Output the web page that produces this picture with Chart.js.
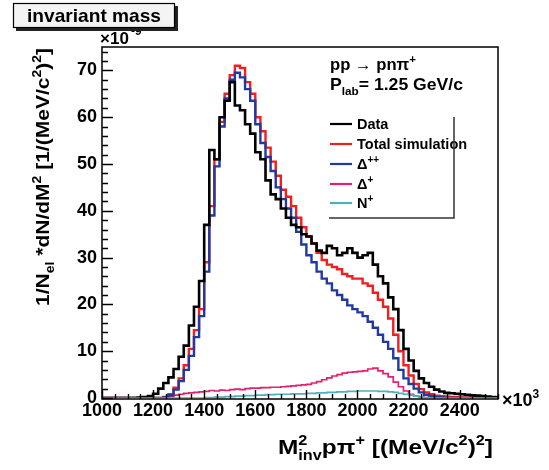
<!DOCTYPE html>
<html>
<head>
<meta charset="utf-8">
<title>invariant mass</title>
<script src="https://cdn.jsdelivr.net/npm/chart.js@4.4.1/dist/chart.umd.min.js"></script>
<style>
  html, body { margin: 0; padding: 0; background: #fff; }
</style>
</head>
<body>
<canvas id="massChart" width="549" height="470"></canvas>
<script>
// bin edges of M^2_inv(p pi+) in 10^3 (MeV/c^2)^2, last value closes the last bin
const binEdges = [
  1000, 1020, 1040, 1060, 1080, 1100, 1120, 1140, 1160, 1180,
  1200, 1220, 1240, 1260, 1280, 1300, 1320, 1340, 1360, 1380,
  1400, 1420, 1440, 1460, 1480, 1500, 1520, 1540, 1560, 1580,
  1600, 1620, 1640, 1660, 1680, 1700, 1720, 1740, 1760, 1780,
  1800, 1820, 1840, 1860, 1880, 1900, 1920, 1940, 1960, 1980,
  2000, 2020, 2040, 2060, 2080, 2100, 2120, 2140, 2160, 2180,
  2200, 2220, 2240, 2260, 2280, 2300, 2320, 2340, 2360, 2380,
  2400, 2420, 2440, 2460, 2480, 2500, 2520, 2540, 2560
];

const dataHist = [
  0, 0, 0, 0, 0, 0, 0, 0.1, 0.2, 0.4,
  0.9, 2.0, 3.2, 4.4, 6.2, 8.8, 11.2, 15.5, 19.5, 25,
  37, 53, 51, 60, 63.5, 67.5, 62.5, 61.5, 58.5, 56.5,
  52.5, 51, 46.5, 43.5, 42.5, 40.5, 38.5, 37, 36.5, 35,
  34.5, 33, 31.5, 31, 32.5, 32, 30.5, 31, 32, 31,
  30, 30.5, 31, 28.5, 26, 24.5, 21.5, 19, 14.5, 10.5,
  8, 5.8, 4.2, 3.2, 2.4, 1.8, 1.4, 1.1, 1.0, 0.9,
  0.8, 0.7, 0.6, 0.5, 0.4, 0.3, 0.2, 0.1
];

const totalSim = [
  0, 0, 0, 0, 0, 0, 0, 0, 0, 0,
  0, 0, 0.2, 0.8, 2.2, 4.2, 7, 10.5, 14.5, 19,
  29, 41, 51, 59, 65, 69, 71, 70.5, 67.5, 65,
  60, 57, 53.5, 50.5, 47.5, 44.5, 43, 41, 38.5, 36.5,
  34.5, 33, 31, 29.5, 28.5, 28, 27.5, 26.5, 26, 25.5,
  25.5, 24.5, 24, 22.5, 21, 19.5, 17, 13.5, 10, 7,
  4.8, 3, 1.9, 1.2, 0.8, 0.5, 0.4, 0.3, 0.2, 0.2,
  0.1, 0.1, 0.1, 0.1, 0.1, 0.1, 0.1, 0.1
];

const deltaPP = [
  0, 0, 0, 0, 0, 0, 0, 0, 0, 0,
  0, 0, 0.1, 0.6, 1.8, 3.6, 6, 9, 13, 17.5,
  27, 39, 49.5, 58, 64, 68, 69.5, 68.5, 66, 63.5,
  58.5, 54.5, 51.5, 48.5, 45, 42.5, 40.5, 38.5, 35.5, 32.8,
  30.5, 29, 27, 25.5, 24.5, 23, 22, 21, 19.8, 19,
  18.3, 17.5, 16.3, 15, 13.5, 12, 10.5, 8.5, 6, 4.2,
  3, 2, 1.2, 0.7, 0.4, 0.2, 0.1, 0, 0, 0,
  0, 0, 0, 0, 0, 0, 0, 0
];

const deltaP = [
  0, 0, 0, 0, 0, 0, 0, 0, 0, 0,
  0, 0, 0.1, 0.3, 0.6, 0.8, 1.0, 1.1, 1.2, 1.3,
  1.4, 1.6, 1.5, 1.7, 1.6, 1.8, 1.9, 1.8, 2.0, 2.1,
  2.1, 2.2, 2.2, 2.3, 2.3, 2.4, 2.5, 2.6, 2.7, 2.8,
  2.9, 3.2, 3.5, 3.9, 4.3, 4.7, 5.0, 5.3, 5.5, 5.6,
  5.7, 5.8, 6.2, 6.4, 5.8, 5.2, 4.5, 3.4, 2.4, 1.5,
  0.8, 0.4, 0.2, 0.1, 0, 0, 0, 0, 0, 0,
  0, 0, 0, 0, 0, 0, 0, 0
];

const nStar = [
  0, 0, 0, 0, 0, 0, 0, 0, 0, 0,
  0, 0, 0, 0, 0, 0, 0, 0, 0, 0,
  0.1, 0.1, 0.2, 0.2, 0.3, 0.3, 0.4, 0.4, 0.5, 0.5,
  0.6, 0.6, 0.7, 0.7, 0.8, 0.8, 0.8, 0.9, 0.9, 0.9,
  1.0, 1.0, 1.1, 1.1, 1.2, 1.2, 1.3, 1.3, 1.4, 1.4,
  1.5, 1.5, 1.5, 1.5, 1.4, 1.4, 1.3, 1.2, 1.0, 0.8,
  0.6, 0.4, 0.2, 0.1, 0, 0, 0, 0, 0, 0,
  0, 0, 0, 0, 0, 0, 0, 0
];

const seriesNames = ["Data", "Total simulation", "Δ++", "Δ+", "N+"];
const seriesColors = ["#000000", "#ee2020", "#2239a0", "#e6206e", "#4fb0c0"];

const FONT = '"Liberation Sans", Arial, Helvetica, sans-serif';

// histogram as step line: value of bin i holds from edge i to edge i+1
function histPoints(values) {
  const pts = values.map((v, i) => ({ x: binEdges[i], y: v }));
  pts.push({ x: binEdges[values.length], y: values[values.length - 1] });
  return pts;
}

function partFont(size, kind) {
  return "bold " + (kind ? Math.round(size * 0.68) : size) + "px " + FONT;
}

function richWidth(ctx, parts, size) {
  let w = 0;
  parts.forEach((p) => {
    ctx.font = partFont(size, p[1]);
    if (!p[2]) w += ctx.measureText(p[0]).width;
  });
  return w;
}

// parts: [text, 'sup'|'sub'|undefined, noAdvance]
function drawRich(ctx, parts, x, y, size, fitWidth, align) {
  const natural = richWidth(ctx, parts, size);
  const sx = fitWidth ? fitWidth / natural : 1;
  const w = natural * sx;
  ctx.save();
  ctx.translate(align === "center" ? x - w / 2 : x, y);
  ctx.scale(sx, 1);
  ctx.textAlign = "left";
  ctx.textBaseline = "alphabetic";
  let cx = 0;
  parts.forEach((p) => {
    ctx.font = partFont(size, p[1]);
    const dy = p[1] === "sup" ? -size * 0.42 : p[1] === "sub" ? size * 0.28 : 0;
    ctx.fillText(p[0], cx, dy);
    if (!p[2]) cx += ctx.measureText(p[0]).width;
  });
  ctx.restore();
}

const rootDecor = {
  id: "rootDecor",
  afterDraw(chart) {
    const { ctx, chartArea: a, scales } = chart;
    const xs = scales.x;
    const ys = scales.y;
    ctx.save();
    ctx.fillStyle = "#000";
    ctx.strokeStyle = "#000";

    // frame
    const bottom = a.bottom + 1;
    ctx.lineWidth = 1.5;
    ctx.strokeRect(a.left, a.top, a.right - a.left, bottom - a.top);

    // ticks inside the frame
    ctx.lineWidth = 1.4;
    ctx.beginPath();
    for (let v = 0; v <= 74; v += 2) {
      const py = Math.round(ys.getPixelForValue(v)) + 0.5;
      const len = v % 10 === 0 ? 11 : 6;
      ctx.moveTo(a.left, py);
      ctx.lineTo(a.left + len, py);
    }
    for (let v = 1000; v <= 2550; v += 50) {
      const px = Math.round(xs.getPixelForValue(v)) + 0.5;
      const len = v % 200 === 0 ? 9 : 5;
      ctx.moveTo(px, bottom);
      ctx.lineTo(px, bottom - len);
    }
    ctx.stroke();

    // exponent labels
    drawRich(ctx, [["×10"]], 100, 44, 17);
    drawRich(ctx, [["-9"]], 131, 35, 12);
    drawRich(ctx, [["×10"], ["3", "sup"]], 502, 406, 18);

    // axis titles
    drawRich(ctx, [["M"], ["2", "sup", true], ["inv", "sub"], ["pπ"], ["+", "sup"],
      [" [(MeV/c"], ["2", "sup"], [")"], ["2", "sup"], ["]"]], 278, 454, 21, 215);
    ctx.save();
    ctx.translate(42, 177);
    ctx.rotate(-Math.PI / 2);
    drawRich(ctx, [["1/N"], ["el", "sub"], [" *dN/dM"], ["2", "sup"],
      [" [1/(MeV/c"], ["2", "sup"], [")"], ["2", "sup"], ["]"]], 0, 7, 18, 258, "center");
    ctx.restore();

    // reaction text
    drawRich(ctx, [["pp "], ["→"], [" pnπ"], ["+", "sup"]], 330, 70, 16, 86);
    drawRich(ctx, [["P"], ["lab", "sub"], ["= 1.25 GeV/c"]], 330, 90, 16.5, 133);

    // legend
    const rowsY = [124, 144, 164, 184, 203];
    const labelParts = [
      [["Data"]],
      [["Total simulation"]],
      [["Δ"], ["++", "sup"]],
      [["Δ"], ["+", "sup"]],
      [["N"], ["+", "sup"]],
    ];
    rowsY.forEach((ry, i) => {
      ctx.strokeStyle = seriesColors[i];
      ctx.lineWidth = 2.2;
      ctx.beginPath();
      ctx.moveTo(330, ry);
      ctx.lineTo(352, ry);
      ctx.stroke();
      ctx.fillStyle = "#000";
      drawRich(ctx, labelParts[i], 357, ry + 5, 14.5);
    });
    ctx.strokeStyle = "#333";
    ctx.lineWidth = 1.5;
    ctx.beginPath();
    ctx.moveTo(454, 117);
    ctx.lineTo(454, 218);
    ctx.lineTo(329, 218);
    ctx.stroke();

    // title box
    ctx.fillStyle = "#222";
    ctx.fillRect(16, 6, 162, 25);
    ctx.fillStyle = "#f4f4f4";
    ctx.fillRect(13, 3, 162, 25);
    ctx.strokeStyle = "#000";
    ctx.lineWidth = 1.2;
    ctx.strokeRect(13.5, 3.5, 161, 24);
    ctx.fillStyle = "#000";
    drawRich(ctx, [["invariant mass"]], 94, 22, 18.5, 134, "center");

    ctx.restore();
  },
};

const allSeries = [dataHist, totalSim, deltaPP, deltaP, nStar];
const drawOrder = [1, 4, 3, 5, 0];
const lineWidths = [2.6, 2.4, 2.4, 1.7, 1.7];

new Chart(document.getElementById("massChart"), {
  type: "line",
  data: {
    datasets: allSeries.map((vals, i) => ({
      label: seriesNames[i],
      data: histPoints(vals),
      stepped: "before",
      borderColor: seriesColors[i],
      borderWidth: lineWidths[i],
      pointRadius: 0,
      fill: false,
      order: drawOrder[i],
    })),
  },
  options: {
    responsive: false,
    animation: false,
    events: [],
    layout: {
      padding: { top: 47, right: 51, left: 0, bottom: 0 },
    },
    plugins: {
      legend: { display: false },
      tooltip: { enabled: false },
    },
    scales: {
      x: {
        type: "linear",
        min: 1000,
        max: 2550,
        grid: { display: false, drawTicks: false },
        border: { display: false },
        ticks: {
          stepSize: 200,
          includeBounds: false,
          autoSkip: false,
          maxRotation: 0,
          padding: 2,
          color: "#000",
          font: { family: FONT, size: 18, weight: "bold" },
          callback: (v) => String(v),
        },
        afterFit: (s) => { s.height = 72; },
      },
      y: {
        min: 0,
        max: 75,
        grid: { display: false, drawTicks: false },
        border: { display: false },
        ticks: {
          stepSize: 10,
          includeBounds: false,
          padding: 5,
          color: "#000",
          font: { family: FONT, size: 18, weight: "bold" },
          callback: (v) => String(v),
        },
        afterFit: (s) => { s.width = 102; },
      },
    },
  },
  plugins: [rootDecor],
});
</script>
</body>
</html>
